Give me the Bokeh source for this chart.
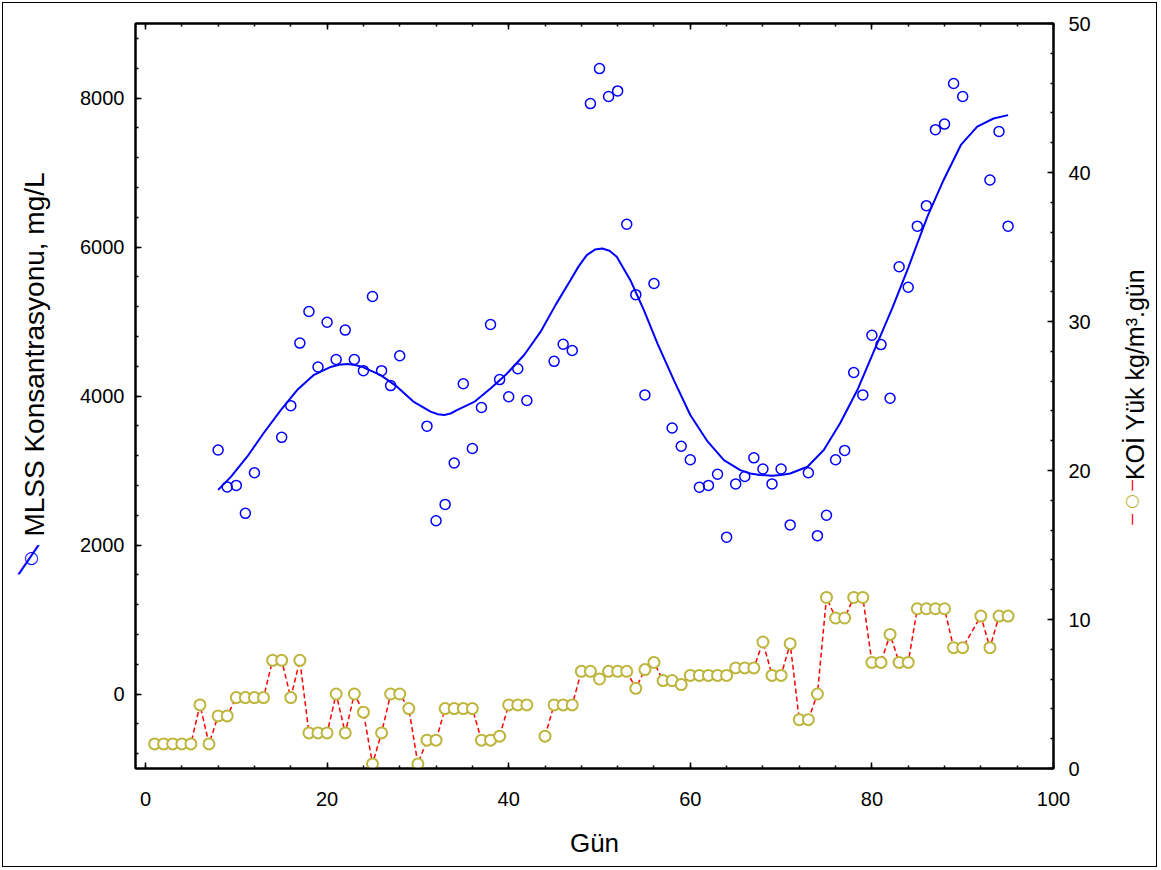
import math
from bokeh.plotting import figure
from bokeh.models import (LinearAxis, Range1d, SingleIntervalTicker, Label)
from bokeh.embed import file_html
from bokeh.resources import INLINE

# ---- data ----
mlss_day = [8, 9, 10, 11, 12, 15, 16, 17, 18, 19, 20, 21, 22, 23, 24, 25, 26, 27, 28,
            31, 32, 33, 34, 35, 36, 37, 38, 39, 40, 41, 42, 45, 46, 47, 49, 50, 51, 52,
            53, 54, 55, 56, 58, 59, 60, 61, 62, 63, 64, 65, 66, 67, 68, 69, 70, 71, 73,
            74, 75, 76, 77, 78, 79, 80, 81, 82, 83, 84, 85, 86, 87, 88, 89, 90, 93, 94, 95]
mlss = [3275, 2780, 2800, 2425, 2970, 3445, 3870, 4710, 5135, 4390, 4990, 4490, 4885,
        4490, 4340, 5335, 4340, 4140, 4540, 3595, 2325, 2545, 3100, 4165, 3295, 3845,
        4960, 4220, 3990, 4365, 3940, 4465, 4695, 4610, 7925, 8395, 8020, 8095, 6305,
        5360, 4015, 5510, 3570, 3325, 3145, 2775, 2800, 2950, 2105, 2820, 2920, 3170,
        3020, 2820, 3020, 2270, 2970, 2125, 2400, 3145, 3270, 4315, 4015, 4815, 4690,
        3970, 5735, 5460, 6280, 6555, 7575, 7650, 8195, 8020, 6900, 7550, 6280]

fit_day = [8, 9.4, 11.2, 13, 14.9, 16.7, 18.5, 20.4, 21.3, 22.2, 23.1, 24, 25.9, 27.7,
           29.5, 31.4, 32.2, 32.9, 33.6, 34.3, 36.2, 38, 39.8, 41.7, 43.5, 45.2, 46.8,
           47.7, 48.6, 49.5, 50.3, 51.1, 51.9, 53.4, 54.9, 56.4, 58.2, 60, 61.9, 63.7,
           65.5, 66.6, 67.7, 69, 70, 71, 72.9, 74.7, 76.5, 78.4, 80.2, 82.2, 84, 86.1,
           87.9, 89.8, 91.6, 93.4, 95]
fit_mlss = [2740, 2915, 3185, 3500, 3810, 4080, 4280, 4390, 4420, 4430, 4415, 4385, 4280,
            4125, 3925, 3790, 3755, 3745, 3765, 3810, 3920, 4100, 4300, 4550, 4860, 5230,
            5555, 5740, 5890, 5965, 5980, 5950, 5870, 5555, 5150, 4700, 4210, 3745, 3390,
            3140, 3005, 2960, 2940, 2930, 2940, 2960, 3050, 3275, 3635, 4080, 4595, 5165,
            5720, 6405, 6900, 7370, 7615, 7725, 7770]

koi_day = [1, 2, 3, 4, 5, 6, 7, 8, 9, 10, 11, 12, 13, 14, 15, 16, 17, 18, 19, 20, 21, 22,
           23, 24, 25, 26, 27, 28, 29, 30, 31, 32, 33, 34, 35, 36, 37, 38, 39, 40, 41, 42,
           43, 44, 45, 46, 47, 48, 49, 50, 51, 52, 53, 54, 55, 56, 57, 58, 59, 60, 61, 62,
           63, 64, 65, 66, 67, 68, 69, 70, 71, 72, 73, 74, 75, 76, 77, 78, 79, 80, 81, 82,
           83, 84, 85, 86, 87, 88, 89, 90, 92, 93, 94, 95]
koi = [1.65, 1.65, 1.65, 1.65, 1.65, 4.27, 1.65, 3.53, 3.53, 4.76, 4.76, 4.76, 4.76, 7.26,
       7.26, 4.76, 7.26, 2.39, 2.39, 2.39, 5.0, 2.39, 5.0, 3.78, 0.31, 2.39, 5.0, 5.0,
       4.02, 0.31, 1.9, 1.9, 4.02, 4.02, 4.02, 4.02, 1.9, 1.9, 2.17, 4.27, 4.27, 4.27,
       float("nan"), 2.17, 4.27, 4.27, 4.27, 6.52, 6.52, 6.01, 6.52, 6.52, 6.52, 5.38,
       6.64, 7.12, 5.90, 5.90, 5.63, 6.25, 6.25, 6.25, 6.25, 6.25, 6.75, 6.75, 6.75, 8.49,
       6.25, 6.25, 8.38, 3.28, 3.28, 5.0, 11.48, 10.1, 10.1, 11.48, 11.48, 7.12, 7.12,
       9.0, 7.12, 7.12, 10.72, 10.72, 10.72, 10.72, 8.11, 8.11, 10.23, 8.11, 10.23, 10.23]

x_label = "Gün"
y_left_label = "MLSS Konsantrasyonu, mg/L"
y_right_label = "KOİ Yük kg/m³.gün"

BLUE = "#0000FF"
OLIVE = "#BDB53C"
FONT = "Liberation Sans"

p = figure(x_range=Range1d(-1.1, 100), y_range=Range1d(-1000, 9000),
           frame_width=918, frame_height=745,
           min_border_left=132, min_border_right=103, min_border_top=20, min_border_bottom=98,
           output_backend="svg", toolbar_location=None, background_fill_color="white",
           border_fill_color="white")
p.styles = {"border": "1px solid black", "margin": "2px 0px 0px 2px"}
p.extra_y_ranges = {"koi": Range1d(0, 50)}
p.grid.visible = False
p.outline_line_color = "black"
p.outline_line_width = 2

def style_axis(ax, interval, standoff=10):
    ax.ticker = SingleIntervalTicker(interval=interval, num_minor_ticks=5)
    ax.major_tick_in = 6
    ax.major_tick_out = 0
    ax.minor_tick_in = 3
    ax.minor_tick_out = 0
    ax.axis_line_width = 2
    ax.major_tick_line_width = 1.5
    ax.minor_tick_line_width = 1.5
    ax.major_label_text_font = FONT
    ax.major_label_text_color = "black"
    ax.major_label_text_font_size = "20px"
    ax.major_label_standoff = standoff

style_axis(p.xaxis[0], 20, standoff=23)
style_axis(p.yaxis[0], 2000, standoff=11)
p.xaxis[0].axis_label = x_label
p.xaxis[0].axis_label_text_font = FONT
p.xaxis[0].axis_label_text_font_size = "26px"
p.xaxis[0].axis_label_text_font_style = "normal"
p.xaxis[0].axis_label_text_color = "black"
p.xaxis[0].axis_label_standoff = 19

top = LinearAxis()
style_axis(top, 20, standoff=0)
top.major_label_text_font_size = "1px"
top.major_label_text_color = None
p.add_layout(top, "above")

right = LinearAxis(y_range_name="koi")
style_axis(right, 10, standoff=15)
p.add_layout(right, "right")

# series
p.line(koi_day, koi, y_range_name="koi", line_color="red", line_dash="5 3", line_width=1.5)
p.scatter(koi_day, koi, y_range_name="koi", marker="circle", size=11,
          fill_color="white", line_color=OLIVE, line_width=2)
p.scatter(mlss_day, mlss, marker="circle", size=10, fill_color=None,
          line_color=BLUE, line_width=1.5)
p.line(fit_day, fit_mlss, line_color=BLUE, line_width=2)

def lab(side, text, x, y, angle=0, size="22px", color="black", font=FONT, style="normal"):
    p.add_layout(Label(x=x, y=y, x_units="canvas", y_units="canvas", text=text,
                       angle=angle, angle_units="deg", text_align="center",
                       text_baseline="middle", text_font=font, text_font_size=size,
                       text_color=color, text_font_style=style), side)

# legend glyph on the left title
lab("left", "╱", 24, 555, angle=-7, size="27px", color=BLUE, font="DejaVu Sans Mono")
lab("left", "○", 27, 552, size="17px", color=BLUE, font="DejaVu Sans", style="bold")
lab("left", y_left_label, 30, 350, angle=90, size="28px")
# legend glyph on the right title
lab("right", "○", 1128, 495, size="17px", color=OLIVE, font="DejaVu Sans", style="bold")
lab("right", "|", 1128, 480, size="11px", color="red", font="DejaVu Sans", style="bold")
lab("right", y_right_label, 1130, 370, angle=90, size="25px")
lab("above", "|", 1128, 514, size="11px", color="red", font="DejaVu Sans", style="bold")

open("out.html", "w").write(file_html(p, INLINE))
